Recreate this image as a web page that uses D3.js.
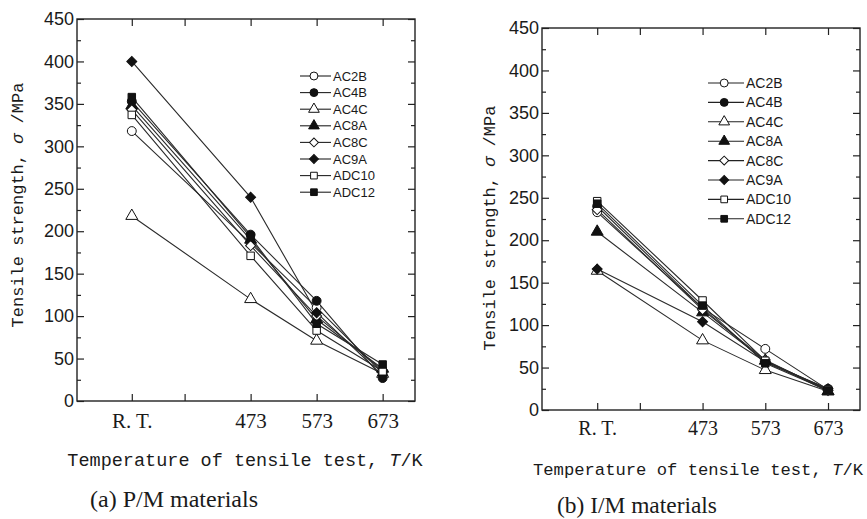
<!DOCTYPE html>
<html>
<head>
<meta charset="utf-8">
<script src="https://cdn.jsdelivr.net/npm/d3@7"></script>
<style>
  body { margin: 0; background: #fff; }
  svg { display: block; }
</style>
</head>
<body>
<script>
// alloy names, in legend order
var series = ["AC2B", "AC4B", "AC4C", "AC8A", "AC8C", "AC9A", "ADC10", "ADC12"];
var shapes = ["circle", "circle", "triangle", "triangle", "diamond", "diamond", "square", "square"];
var filled = [false, true, false, true, false, true, false, true];

// test temperatures (K); the first one is room temperature
var tempLabels = ["R. T.", "473", "573", "673"];
var temps = [0, 473, 573, 673];   // index 0 replaced by panel rt position
var minorTemp = 373;

var yTicks = [0, 50, 100, 150, 200, 250, 300, 350, 400, 450];

// tensile strength (MPa), one row per alloy, columns = tempLabels
var pmValues = [
  [318, 186, 110, 33],  // AC2B
  [353, 196, 118, 27],  // AC4B
  [218, 120,  71, 32],  // AC4C
  [348, 190,  96, 38],  // AC8A
  [343, 183, 100, 36],  // AC8C
  [400, 240, 104, 30],  // AC9A
  [337, 171,  83, 35],  // ADC10
  [358, 193,  91, 43]   // ADC12
];
var imValues = [
  [233, 120,  72, 24],  // AC2B
  [240, 120,  56, 25],  // AC4B
  [164,  82,  47, 22],  // AC4C
  [210, 115,  58, 22],  // AC8A
  [236, 118,  59, 23],  // AC8C
  [166, 104,  57, 25],  // AC9A
  [246, 129,  58, 24],  // ADC10
  [243, 123,  55, 23]   // ADC12
];

var W = 867, H = 519;
var svg = d3.select("body").append("svg")
  .attr("width", W).attr("height", H);

var panels = [
  {values: pmValues, x0: 77, x1: 415, y0: 401, y1: 19, dom: [210, 722], rt: 293,
   tickFs: 21, tickY: 413, legX: 300, legY: 76, legDy: 16.6, legFs: 13, legLen: 31,
   ytitle: {x: 23, y: 205, fs: 17}, xtitle: {x: 245, y: 466, fs: 18.5},
   caption: {x: 174, y: 507, text: "(a) P/M materials", len: 168}},
  {values: imValues, x0: 542, x1: 860, y0: 410, y1: 28, dom: [217, 724], rt: 305,
   tickFs: 20, tickY: 421, legX: 708, legY: 83, legDy: 19.4, legFs: 14, legLen: 36,
   ytitle: {x: 495, y: 228, fs: 17}, xtitle: {x: 698, y: 475, fs: 17.2},
   caption: {x: 637, y: 513, text: "(b) I/M materials", len: 160}}
];

function symbolPath(shape, size) {
  var t = {circle: d3.symbolCircle, triangle: d3.symbolTriangle,
           diamond: d3.symbolSquare, square: d3.symbolSquare}[shape];
  return d3.symbol().type(t).size(size)();
}

function drawMarker(g, i, x, y, scale) {
  var s = shapes[i];
  var size = {circle: 62, triangle: 62, diamond: 50, square: 56}[s] * scale;
  g.append("path")
    .attr("d", symbolPath(s, size))
    .attr("transform", "translate(" + x + "," + y + ")" + (s == "diamond" ? " rotate(45)" : ""))
    .attr("fill", filled[i] ? "#111" : "#fff")
    .attr("stroke", "#111")
    .attr("stroke-width", 1);
}

panels.forEach(function(p) {
  var xScale = d3.scaleLinear().domain(p.dom).range([p.x0, p.x1]);
  var yScale = d3.scaleLinear().domain([0, 450]).range([p.y0, p.y1]);
  var tx = temps.map(function(t, k) { return k == 0 ? p.rt : t; });

  var g = svg.append("g");

  // y axes (left with labels, right mirrored), minor ticks every 25
  var yl = g.append("g").attr("transform", "translate(" + p.x0 + ",0)")
    .call(d3.axisLeft(yScale).tickValues(yTicks).tickSize(-7).tickPadding(3).tickSizeOuter(0));
  yl.selectAll("text").style("font-family", "Liberation Sans, Arial, sans-serif")
    .style("font-size", "18px").attr("fill", "#1a1a1a");
  g.append("g").attr("transform", "translate(" + p.x0 + ",0)")
    .call(d3.axisLeft(yScale).tickValues(d3.range(25, 450, 50)).tickSize(-4).tickFormat(""));
  g.append("g").attr("transform", "translate(" + p.x1 + ",0)")
    .call(d3.axisRight(yScale).tickValues(yTicks).tickSize(-7).tickFormat(""));
  g.append("g").attr("transform", "translate(" + p.x1 + ",0)")
    .call(d3.axisRight(yScale).tickValues(d3.range(25, 450, 50)).tickSize(-4).tickFormat(""));

  // x axes (bottom with labels, top mirrored)
  var xTickVals = [tx[0], minorTemp, tx[1], tx[2], tx[3]];
  var xb = g.append("g").attr("transform", "translate(0," + p.y0 + ")")
    .call(d3.axisBottom(xScale).tickValues(xTickVals).tickSize(-7)
      .tickFormat(function(d, k) { return k == 0 ? tempLabels[0] : (d == minorTemp ? "" : String(d)); }));
  xb.selectAll("text").style("font-family", "Liberation Serif, Times New Roman, serif")
    .style("font-size", p.tickFs + "px").attr("fill", "#1a1a1a")
    .attr("y", p.tickY - p.y0).attr("dy", "0.71em");
  g.append("g").attr("transform", "translate(0," + p.y1 + ")")
    .call(d3.axisTop(xScale).tickValues(xTickVals).tickSize(-7).tickFormat(""));

  g.selectAll(".domain").remove();
  g.selectAll(".tick line").attr("stroke", "#222").attr("stroke-width", 1.2);

  // frame
  g.append("rect")
    .attr("x", p.x0).attr("y", p.y1)
    .attr("width", p.x1 - p.x0).attr("height", p.y0 - p.y1)
    .attr("fill", "none").attr("stroke", "#222").attr("stroke-width", 1.4);

  // lines
  var line = d3.line()
    .x(function(d, k) { return xScale(tx[k]); })
    .y(function(d) { return yScale(d); });
  p.values.forEach(function(vals) {
    g.append("path").attr("d", line(vals))
      .attr("fill", "none").attr("stroke", "#2a2a2a").attr("stroke-width", 1.1);
  });
  // markers
  p.values.forEach(function(vals, i) {
    vals.forEach(function(v, k) { drawMarker(g, i, xScale(tx[k]), yScale(v), 1); });
  });

  // legend
  series.forEach(function(name, i) {
    var ly = p.legY + i * p.legDy;
    g.append("line").attr("x1", p.legX).attr("x2", p.legX + p.legLen)
      .attr("y1", ly).attr("y2", ly).attr("stroke", "#222").attr("stroke-width", 1.1);
    drawMarker(g, i, p.legX + p.legLen * 0.45, ly, 0.8);
    g.append("text").attr("x", p.legX + p.legLen + 2).attr("y", ly).attr("dy", "0.36em")
      .style("font-family", "Liberation Sans, Arial, sans-serif")
      .style("font-size", p.legFs + "px").attr("fill", "#1a1a1a").text(name);
  });

  // y title
  var yt = g.append("text")
    .attr("transform", "translate(" + p.ytitle.x + "," + p.ytitle.y + ") rotate(-90)")
    .attr("text-anchor", "middle")
    .style("font-family", "Liberation Mono, Courier New, monospace")
    .style("font-size", p.ytitle.fs + "px").attr("fill", "#1a1a1a");
  yt.append("tspan").text("Tensile strength, ");
  yt.append("tspan").style("font-style", "italic").text("σ");
  yt.append("tspan").text(" /MPa");

  // x title
  var xt = g.append("text")
    .attr("x", p.xtitle.x).attr("y", p.xtitle.y)
    .attr("text-anchor", "middle")
    .style("font-family", "Liberation Mono, Courier New, monospace")
    .style("font-size", p.xtitle.fs + "px").attr("fill", "#1a1a1a");
  xt.append("tspan").text("Temperature of tensile test, ");
  xt.append("tspan").style("font-style", "italic").text("T");
  xt.append("tspan").text("/K");

  // caption
  g.append("text")
    .attr("x", p.caption.x).attr("y", p.caption.y)
    .attr("text-anchor", "middle")
    .attr("textLength", p.caption.len).attr("lengthAdjust", "spacingAndGlyphs")
    .style("font-family", "Liberation Serif, Times New Roman, serif")
    .style("font-size", "23px").attr("fill", "#1a1a1a")
    .text(p.caption.text);
});
</script>
</body>
</html>
